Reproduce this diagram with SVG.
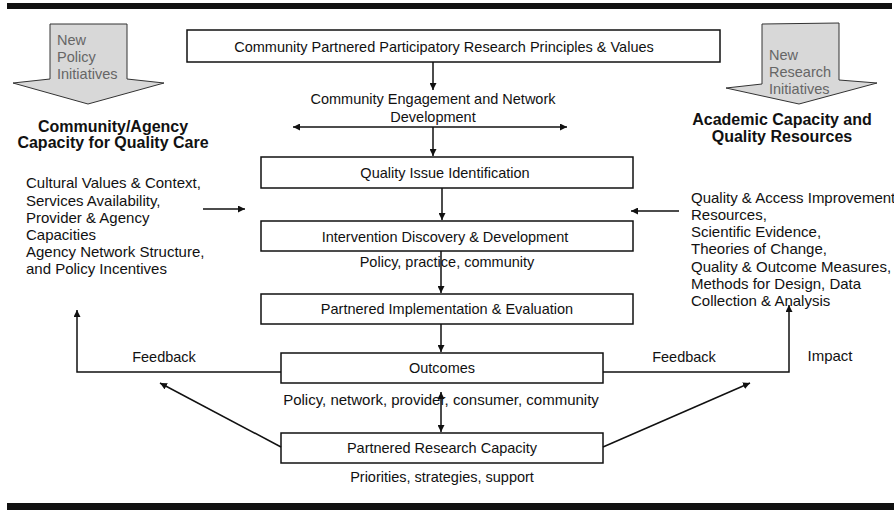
<svg xmlns="http://www.w3.org/2000/svg" width="894" height="516" viewBox="0 0 894 516">
<style>
text{font-family:"Liberation Sans",Arial,sans-serif;font-size:14.5px;fill:#111}
.c{text-anchor:middle}
.b{font-weight:bold;font-size:16px}
.s{font-size:15px}
.g{fill:#666;font-size:14.5px}
.box{fill:#fff;stroke:#111;stroke-width:1.5}
.ln{fill:none;stroke:#111;stroke-width:1.5}
.blk{fill:#d8d8d8;stroke:#333;stroke-width:1}
</style>
<defs>
<marker id="ah" viewBox="0 0 10 10" refX="10" refY="5" markerWidth="7" markerHeight="7" orient="auto-start-reverse" markerUnits="userSpaceOnUse">
<path d="M0,0 L10,5 L0,10 z" fill="#111"/>
</marker>
</defs>
<rect x="0" y="0" width="894" height="516" fill="#fff"/>
<rect x="7" y="3" width="885" height="6" fill="#111"/>
<rect x="7" y="503" width="887" height="7" fill="#111"/>

<g id="policy-initiatives">
<path class="blk" d="M50,24 L127,24 L127,79 L164,83 L88,104 L13,83 L50,79 Z"/>
<text class="g" x="57" y="45">New</text>
<text class="g" x="57" y="62">Policy</text>
<text class="g" x="57" y="79">Initiatives</text>
</g>
<g id="research-initiatives">
<path class="blk" d="M762,24 L839,23 L839,80 L877,83 L799,104 L726,88 L762,84 Z"/>
<text class="g" x="769" y="60">New</text>
<text class="g" x="769" y="77">Research</text>
<text class="g" x="769" y="94">Initiatives</text>
</g>
<g id="community-capacity">
<text class="c b" x="113" y="132">Community/Agency</text>
<text class="c b" x="113" y="148">Capacity for Quality Care</text>
</g>
<g id="academic-capacity">
<text class="c b" x="782" y="125">Academic Capacity and</text>
<text class="c b" x="782" y="142">Quality Resources</text>
</g>
<g id="community-factors">
<text class="s" x="26" y="188">Cultural Values &amp; Context,</text>
<text class="s" x="26" y="206">Services Availability,</text>
<text class="s" x="26" y="223">Provider &amp; Agency</text>
<text class="s" x="26" y="240">Capacities</text>
<text class="s" x="26" y="257">Agency Network Structure,</text>
<text class="s" x="26" y="274">and Policy Incentives</text>
</g>
<g id="academic-resources">
<text class="s" x="691" y="203">Quality &amp; Access Improvement</text>
<text class="s" x="691" y="220">Resources,</text>
<text class="s" x="691" y="237">Scientific Evidence,</text>
<text class="s" x="691" y="254">Theories of Change,</text>
<text class="s" x="691" y="272">Quality &amp; Outcome Measures,</text>
<text class="s" x="691" y="289">Methods for Design, Data</text>
<text class="s" x="691" y="306">Collection &amp; Analysis</text>
</g>
<g id="cppr-principles">
<rect class="box" x="187" y="30" width="533" height="32"/>
<text class="c" x="444" y="52">Community Partnered Participatory Research Principles &amp; Values</text>
</g>
<g id="engagement">
<text class="c" x="433" y="104">Community Engagement and Network</text>
<text class="c" x="433" y="122">Development</text>
</g>
<g id="quality-issue">
<rect class="box" x="261" y="157" width="372" height="31"/>
<text class="c" x="445" y="178">Quality Issue Identification</text>
</g>
<g id="intervention">
<rect class="box" x="261" y="221" width="372" height="30"/>
<text class="c" x="445" y="242">Intervention Discovery &amp; Development</text>
<text class="c" x="447" y="267">Policy, practice, community</text>
</g>
<g id="implementation">
<rect class="box" x="261" y="294" width="372" height="30"/>
<text class="c" x="447" y="314">Partnered Implementation &amp; Evaluation</text>
</g>
<g id="outcomes">
<rect class="box" x="281" y="353" width="322" height="30"/>
<text class="c" x="442" y="373">Outcomes</text>
<text class="c s" x="441" y="405">Policy, network, provider, consumer, community</text>
</g>
<g id="research-capacity">
<rect class="box" x="281" y="433" width="322" height="30"/>
<text class="c" x="442" y="453">Partnered Research Capacity</text>
<text class="c" x="442" y="482">Priorities, strategies, support</text>
</g>
<g id="labels">
<text class="c" x="164" y="362">Feedback</text>
<text class="c" x="684" y="362">Feedback</text>
<text class="c s" x="830" y="361">Impact</text>
</g>
<g id="connectors">
<line class="ln" x1="433" y1="62" x2="433" y2="90" marker-end="url(#ah)"/>
<line class="ln" x1="293" y1="127" x2="567" y2="127" marker-start="url(#ah)" marker-end="url(#ah)"/>
<line class="ln" x1="433" y1="127" x2="433" y2="156" marker-end="url(#ah)"/>
<line class="ln" x1="442" y1="188" x2="442" y2="220" marker-end="url(#ah)"/>
<line class="ln" x1="441" y1="251" x2="441" y2="293" marker-end="url(#ah)"/>
<line class="ln" x1="441" y1="324" x2="441" y2="352" marker-end="url(#ah)"/>
<line class="ln" x1="441" y1="392" x2="441" y2="432" marker-start="url(#ah)" marker-end="url(#ah)"/>
<line class="ln" x1="203" y1="209" x2="245" y2="209" marker-end="url(#ah)"/>
<line class="ln" x1="679" y1="211" x2="631" y2="211" marker-end="url(#ah)"/>
<polyline class="ln" points="281,372 77,372 77,310" marker-end="url(#ah)"/>
<polyline class="ln" points="603,372 789,372 789,305" marker-end="url(#ah)"/>
<line class="ln" x1="281" y1="447" x2="160" y2="383" marker-end="url(#ah)"/>
<line class="ln" x1="603" y1="447" x2="750" y2="383" marker-end="url(#ah)"/>
</g>
</svg>
